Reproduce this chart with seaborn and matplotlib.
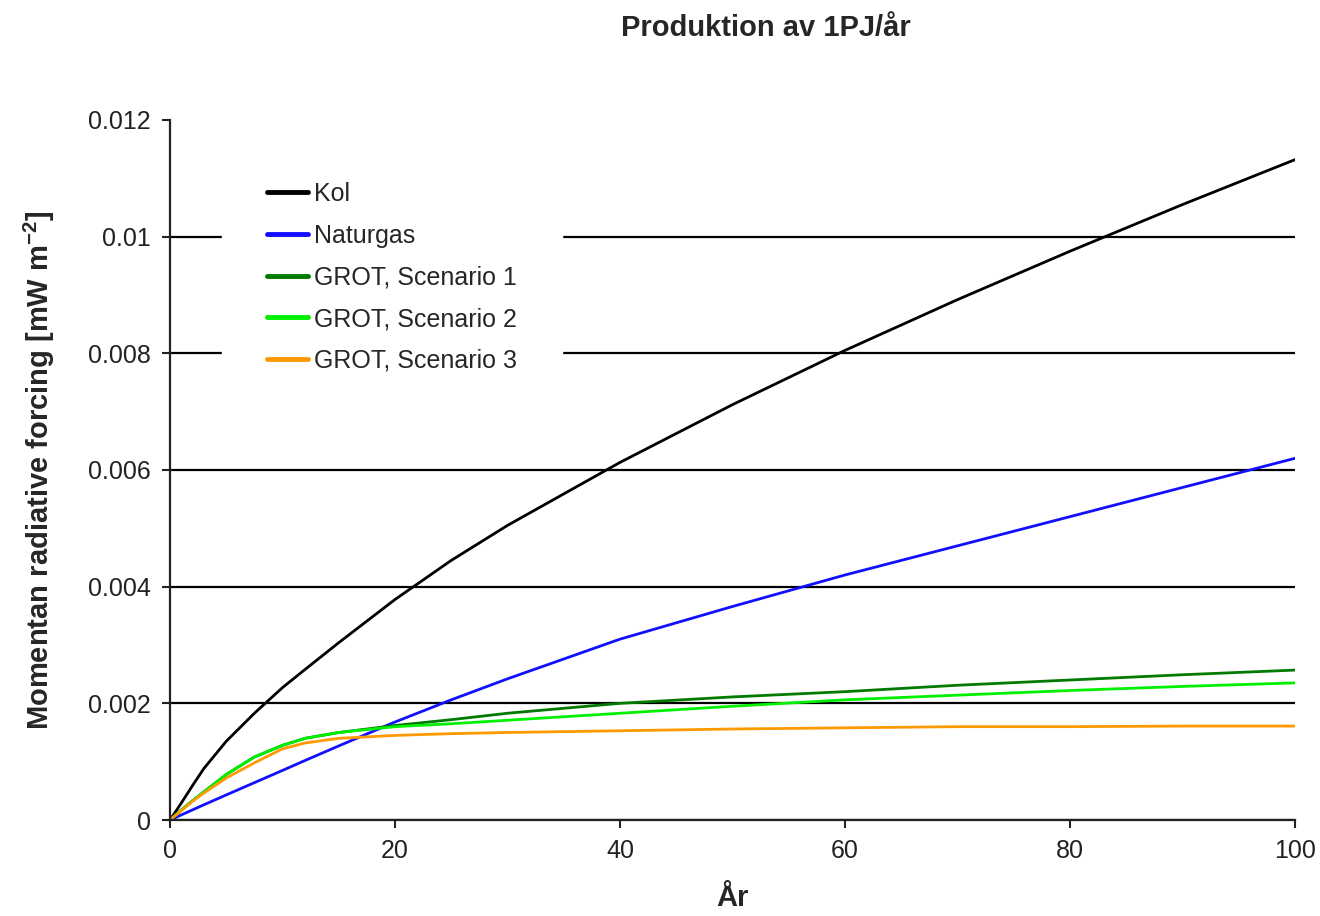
import numpy as np
import pandas as pd
import matplotlib
matplotlib.use('Agg')
import matplotlib.pyplot as plt
import seaborn as sns

# values
years = [0, 1, 2, 3, 5, 7.5, 10, 12, 15, 20, 25, 30, 40, 50, 60, 70, 80, 90, 100]
kol = [0, 0.00029, 0.00059, 0.00088, 0.00135, 0.00183, 0.00227, 0.00258, 0.00304,
       0.00378, 0.00445, 0.00505, 0.00613, 0.00712, 0.00805, 0.00892, 0.00975, 0.01055, 0.01132]
naturgas = [0, 0.000087, 0.000174, 0.00026, 0.00043, 0.00064, 0.00085, 0.00102, 0.00127,
            0.00168, 0.00206, 0.00242, 0.0031, 0.00366, 0.0042, 0.0047, 0.0052, 0.0057, 0.0062]
grot1 = [0, 0.00017, 0.00033, 0.00048, 0.00078, 0.00108, 0.00128, 0.0014, 0.0015,
         0.00162, 0.00172, 0.00183, 0.002, 0.00211, 0.0022, 0.00231, 0.0024, 0.00249, 0.00257]
grot2 = [0, 0.00017, 0.00033, 0.00048, 0.00078, 0.00108, 0.00128, 0.0014, 0.0015,
         0.0016, 0.00165, 0.00171, 0.00183, 0.00195, 0.00206, 0.00214, 0.00222, 0.00229, 0.00235]
grot3 = [0, 0.00016, 0.00032, 0.00046, 0.00072, 0.00098, 0.00122, 0.00132, 0.0014,
         0.00145, 0.00148, 0.0015, 0.00153, 0.00156, 0.00158, 0.0016, 0.0016, 0.00161, 0.00161]

series_names = ['Kol', 'Naturgas', 'GROT, Scenario 1', 'GROT, Scenario 2', 'GROT, Scenario 3']
series_colors = ['#000000', '#1010ff', '#007a00', '#00f000', '#ff9900']
y_ticks = [0, 0.002, 0.004, 0.006, 0.008, 0.01, 0.012]
x_ticks = [0, 20, 40, 60, 80, 100]

sns.set_style('ticks')
plt.rcParams['font.family'] = ['Liberation Sans', 'DejaVu Sans']
plt.rcParams['mathtext.fontset'] = 'custom'
plt.rcParams['mathtext.bf'] = 'Liberation Sans:bold'
plt.rcParams['mathtext.rm'] = 'Liberation Sans'

frames = []
for name, vals in zip(series_names, [kol, naturgas, grot1, grot2, grot3]):
    frames.append(pd.DataFrame({'year': years, 'forcing': vals, 'serie': name}))
df = pd.concat(frames, ignore_index=True)

fig = plt.figure(figsize=(13.2, 9.16), dpi=100)
ax = fig.add_axes([0.1288, 0.1048, 0.981 - 0.1288, 0.869 - 0.1048])

sns.lineplot(data=df, x='year', y='forcing', hue='serie', hue_order=series_names,
             palette=dict(zip(series_names, series_colors)), linewidth=2.0, ax=ax)

ax.set_xlim(0, 100)
ax.set_ylim(0, 0.012)
ax.set_xticks(x_ticks)
ax.set_yticks(y_ticks)
ax.set_yticklabels([f'{v:g}' for v in y_ticks])
ax.tick_params(axis='both', labelsize=18, length=6, width=1.5, color='#222222',
               labelcolor='#222222', direction='out', pad=8)

ax.grid(axis='y', color='black', linewidth=1.6)
ax.get_ygridlines()[-1].set_visible(False)
ax.set_axisbelow(True)

sns.despine(ax=ax)
for side in ['left', 'bottom']:
    ax.spines[side].set_linewidth(1.6)
    ax.spines[side].set_color('#222222')

ax.set_xlabel('År', fontsize=21, fontweight='bold', labelpad=15)
ax.set_ylabel('Momentan radiative forcing [mW m$^{\\mathbf{-2}}$]', fontsize=21,
              fontweight='bold', labelpad=22)

fig.text(0.58, 0.969, 'Produktion av 1PJ/år', ha='center', va='center',
         fontsize=21, fontweight='bold')

leg = ax.legend(loc='upper left', bbox_to_anchor=(0.046, 0.976), borderaxespad=0,
                fontsize=18, frameon=True, facecolor='white', edgecolor='white',
                framealpha=1, fancybox=False, borderpad=1.8, handlelength=1.65,
                handletextpad=0.25, labelspacing=0.71)
for line in leg.get_lines():
    line.set_linewidth(3.5)

fig.savefig('out.png', dpi=100)
